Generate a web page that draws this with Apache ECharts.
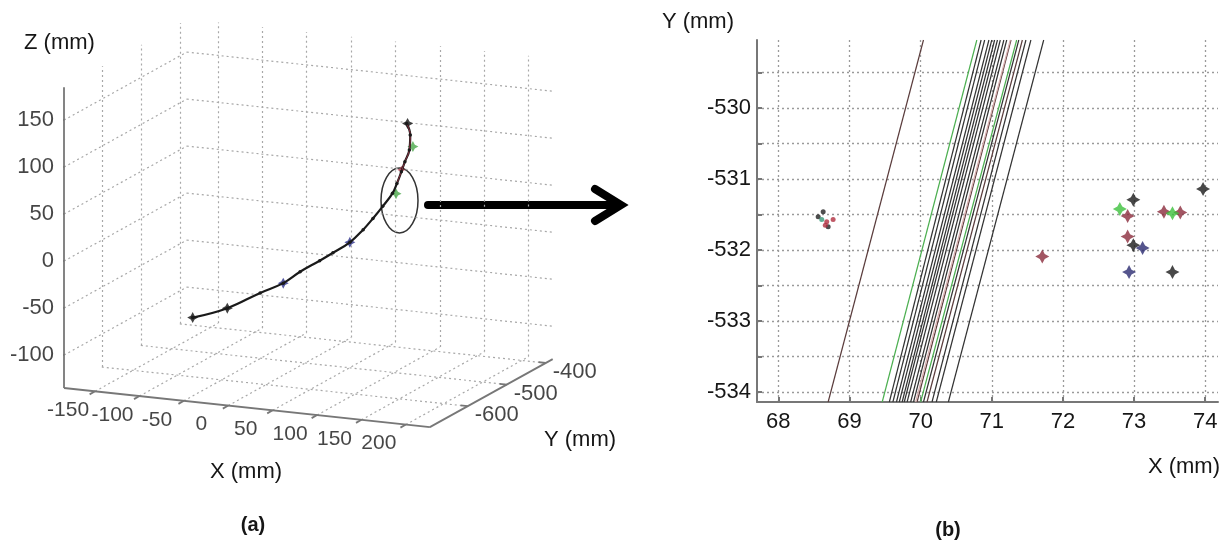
<!DOCTYPE html>
<html>
<head>
<meta charset="utf-8">
<script src="https://cdn.jsdelivr.net/npm/echarts@6/dist/echarts.min.js"></script>
<style>
  html, body { margin: 0; padding: 0; background: #fff; }
  #chart { width: 1228px; height: 542px; }
</style>
</head>
<body>
<div id="chart"></div>
<script>
// ---------- panel (a): 3D trajectory ----------
const trajX = [-113, -74, -37, -11, 8, 30, 45, 64, 79, 90, 101, 112, 117, 122, 126, 131, 132, 128]
const trajY = [-531, -531, -531, -531, -531, -531, -531, -531, -531, -531, -531, -531, -531, -531, -531, -531, -531, -531]
const trajZ = [-91, -77, -57, -44, -30, -16, -6, 7, 22, 35, 49, 64, 75, 88, 99, 112, 128, 140]

const markBlackA = [[-113, -531, -91], [-74, -531, -77], [129, -531, 140]]
const markBlueA = [[-11, -531, -44], [64, -531, 7]]
const markGreenA = [[116, -531, 64], [135, -531, 116]]
const markRedA = [[122, -531, 90]]

const ticksX3 = [-150, -100, -50, 0, 50, 100, 150, 200]
const ticksY3 = [-600, -500, -400]
const ticksZ3 = [-100, -50, 0, 50, 100, 150]
const limX3 = [-185, 227]
const limY3 = [-697, -382]
const limZ3 = [-135, 185]

// ---------- panel (b): X-Y close-up ----------
const blackLineBottom = [69.56, 69.61, 69.66, 69.70, 69.74, 69.77, 69.81, 69.86, 69.90, 70.04, 70.16, 70.22, 70.39]
const blackLineTop = [70.85, 70.90, 70.96, 71.00, 71.04, 71.08, 71.12, 71.17, 71.21, 71.38, 71.48, 71.55, 71.73]
const greenLineBottom = [69.46, 70.00]
const greenLineTop = [70.79, 71.35]
const brownLineBottom = [68.70, 70.09, 69.95]
const brownLineTop = [70.04, 71.43, 71.27]
const pinkLineBottom = [69.93]
const pinkLineTop = [71.26]

const dotsBlack = [[68.63, -531.46], [68.56, -531.53], [68.70, -531.67]]
const dotsRed = [[68.68, -531.60], [68.66, -531.65], [68.77, -531.57]]
const dotsGreen = [[68.61, -531.57]]

const starsBlack = [[73.97, -531.14], [72.99, -531.29], [72.99, -531.93], [73.54, -532.31]]
const starsRed = [[72.91, -531.52], [73.42, -531.46], [73.65, -531.47], [72.91, -531.81], [71.71, -532.09]]
const starsGreen = [[72.80, -531.42], [73.54, -531.48]]
const starsBlue = [[73.12, -531.97], [72.93, -532.31]]

const ticksXb = [68, 69, 70, 71, 72, 73, 74]
const ticksYb = [-534, -533, -532, -531, -530]
const minorYb = [-534, -533.5, -533, -532.5, -532, -531.5, -531, -530.5, -530, -529.5]
const limXb = [67.7, 74.18]
const limYb = [-534.14, -529.04]

const FONT = '"Liberation Sans", Arial, sans-serif'
const TXT = '#161616'
const STAR = 'path://M0,-10 L3.5,-3.5 L10,0 L3.5,3.5 L0,10 L-3.5,3.5 L-10,0 L-3.5,-3.5 Z'

// oblique projection of the 3D box onto a hidden 2D cartesian
function proj(x, y, z) {
  const dx = x - limX3[0]
  const dy = y - limY3[0]
  const dz = z - limZ3[0]
  return [dx * 0.888 + dy * 0.39, dz * 0.94 - dx * 0.095 + dy * 0.216]
}

function seg(a, b) {
  return { coords: [proj(a[0], a[1], a[2]), proj(b[0], b[1], b[2])] }
}

const [x0, x1] = limX3
const [y0, y1] = limY3
const [z0, z1] = limZ3

const gridSegs = []
ticksX3.forEach((x) => {
  gridSegs.push(seg([x, y1, z0], [x, y1, z1]))
  gridSegs.push(seg([x, y0, z0], [x, y1, z0]))
})
ticksY3.forEach((y) => {
  gridSegs.push(seg([x0, y, z0], [x0, y, z1]))
  gridSegs.push(seg([x0, y, z0], [x1, y, z0]))
})
ticksZ3.forEach((z) => {
  gridSegs.push(seg([x0, y1, z], [x1, y1, z]))
  gridSegs.push(seg([x0, y0, z], [x0, y1, z]))
})

const axisSegs = [
  seg([x0, y0, z0], [x0, y0, z1]),
  seg([x0, y0, z0], [x1, y0, z0]),
  seg([x1, y0, z0], [x1, y1, z0]),
]
ticksZ3.forEach((z) => axisSegs.push(seg([x0, y0, z], [x0 - 7, y0, z])))
ticksX3.forEach((x) => axisSegs.push(seg([x, y0, z0], [x, y0 - 14, z0])))
ticksY3.forEach((y) => axisSegs.push(seg([x1, y, z0], [x1 - 8, y, z0])))

const trajPts = trajX.map((x, i) => proj(x, trajY[i], trajZ[i]))
const projMarks = (arr) => arr.map((p) => proj(p[0], p[1], p[2]))

function lineData(bottom, top) {
  return bottom.map((b, i) => ({ coords: [[b, limYb[0]], [top[i], limYb[1]]] }))
}

function labelSeries(data, label) {
  return {
    type: 'scatter',
    xAxisIndex: 0,
    yAxisIndex: 0,
    symbolSize: 0,
    silent: true,
    data,
    label: Object.assign({ show: true, color: TXT, fontSize: 22, fontFamily: FONT }, label),
  }
}

function text(x, y, str, font, align) {
  return {
    type: 'text',
    x,
    y,
    style: {
      text: str,
      font: font + ' ' + FONT,
      fill: TXT,
      align,
      textAlign: align,
      verticalAlign: 'middle',
      textVerticalAlign: 'middle',
    },
  }
}

const axisStyle = { color: '#777', width: 2 }
const chart = echarts.init(document.getElementById('chart'))

chart.setOption({
  animation: false,
  backgroundColor: '#fff',
  grid: [
    { left: 64, top: 8, width: 500, height: 425 },
    { left: 757, top: 40, right: 10, bottom: 140 },
  ],
  xAxis: [
    { gridIndex: 0, type: 'value', min: 0, max: 500, show: false },
    {
      gridIndex: 1,
      type: 'value',
      min: limXb[0],
      max: limXb[1],
      axisLine: { onZero: false, lineStyle: axisStyle },
      axisTick: { inside: true, length: 5, customValues: ticksXb, lineStyle: axisStyle },
      axisLabel: { customValues: ticksXb, margin: 9, color: TXT, fontSize: 22, fontFamily: FONT },
      splitLine: { show: true, lineStyle: { color: '#9a9a9a', type: [2, 3], width: 1.3 } },
    },
  ],
  yAxis: [
    { gridIndex: 0, type: 'value', min: -45, max: 380, show: false },
    {
      gridIndex: 1,
      type: 'value',
      min: limYb[0],
      max: limYb[1],
      axisLine: { show: true, onZero: false, lineStyle: axisStyle },
      axisTick: { show: true, inside: true, length: 5, customValues: minorYb, lineStyle: axisStyle },
      axisLabel: { customValues: ticksYb, margin: 6, color: TXT, fontSize: 22, fontFamily: FONT },
      splitLine: { show: true, lineStyle: { color: '#9a9a9a', type: [2, 3], width: 1.3 } },
    },
  ],
  series: [
    // ---- (a)
    {
      type: 'lines',
      coordinateSystem: 'cartesian2d',
      xAxisIndex: 0,
      yAxisIndex: 0,
      silent: true,
      lineStyle: { color: '#a8a8a8', width: 1.2, type: [2, 3], opacity: 1 },
      data: gridSegs,
    },
    {
      type: 'lines',
      coordinateSystem: 'cartesian2d',
      xAxisIndex: 0,
      yAxisIndex: 0,
      silent: true,
      lineStyle: { color: '#777', width: 1.8, opacity: 1 },
      data: axisSegs,
    },
    {
      type: 'line',
      xAxisIndex: 0,
      yAxisIndex: 0,
      smooth: 0.4,
      symbol: 'circle',
      symbolSize: 3.5,
      itemStyle: { color: '#1a1a1a' },
      lineStyle: { color: '#1a1a1a', width: 2.2 },
      data: trajPts,
    },
    {
      type: 'line',
      xAxisIndex: 0,
      yAxisIndex: 0,
      smooth: 0.4,
      symbol: 'none',
      lineStyle: { color: '#8a3040', width: 1 },
      data: trajPts.slice(12),
    },
    { type: 'scatter', xAxisIndex: 0, yAxisIndex: 0, symbol: STAR, symbolSize: 11, itemStyle: { color: '#111' }, data: projMarks(markBlackA) },
    { type: 'scatter', xAxisIndex: 0, yAxisIndex: 0, symbol: STAR, symbolSize: 11, itemStyle: { color: '#2a2f8a' }, data: projMarks(markBlueA) },
    { type: 'scatter', xAxisIndex: 0, yAxisIndex: 0, symbol: STAR, symbolSize: 11, itemStyle: { color: '#4aa84a' }, data: projMarks(markGreenA) },
    { type: 'scatter', xAxisIndex: 0, yAxisIndex: 0, symbol: STAR, symbolSize: 8, itemStyle: { color: '#a03040' }, data: projMarks(markRedA) },
    labelSeries(
      ticksZ3.map((z) => ({ value: proj(x0, y0, z), name: String(z) })),
      { position: 'left', distance: 10, formatter: '{b}' },
    ),
    labelSeries(
      ticksX3.map((x) => ({ value: proj(x, y0, z0), name: String(x) })),
      { position: 'inside', offset: [-27, 19], fontSize: 21, formatter: '{b}' },
    ),
    labelSeries(
      ticksY3.map((y) => ({ value: proj(x1, y, z0), name: String(y) })),
      { position: 'inside', offset: [29, 9], formatter: '{b}' },
    ),
    // ---- (b)
    {
      type: 'lines',
      coordinateSystem: 'cartesian2d',
      xAxisIndex: 1,
      yAxisIndex: 1,
      silent: true,
      lineStyle: { color: '#333', width: 1.2, opacity: 1 },
      data: lineData(blackLineBottom, blackLineTop),
    },
    {
      type: 'lines',
      coordinateSystem: 'cartesian2d',
      xAxisIndex: 1,
      yAxisIndex: 1,
      silent: true,
      lineStyle: { color: '#5a3c3c', width: 1.2, opacity: 1 },
      data: lineData(brownLineBottom, brownLineTop),
    },
    {
      type: 'lines',
      coordinateSystem: 'cartesian2d',
      xAxisIndex: 1,
      yAxisIndex: 1,
      silent: true,
      lineStyle: { color: '#d8b0b0', width: 1.2, opacity: 1 },
      data: lineData(pinkLineBottom, pinkLineTop),
    },
    {
      type: 'lines',
      coordinateSystem: 'cartesian2d',
      xAxisIndex: 1,
      yAxisIndex: 1,
      silent: true,
      lineStyle: { color: '#4caf50', width: 1.2, opacity: 1 },
      data: lineData(greenLineBottom, greenLineTop),
    },
    { type: 'scatter', xAxisIndex: 1, yAxisIndex: 1, symbol: 'circle', symbolSize: 5, itemStyle: { color: '#222' }, data: dotsBlack },
    { type: 'scatter', xAxisIndex: 1, yAxisIndex: 1, symbol: 'circle', symbolSize: 5, itemStyle: { color: '#b03040' }, data: dotsRed },
    { type: 'scatter', xAxisIndex: 1, yAxisIndex: 1, symbol: 'circle', symbolSize: 5, itemStyle: { color: '#3a9a7a' }, data: dotsGreen },
    { type: 'scatter', xAxisIndex: 1, yAxisIndex: 1, symbol: STAR, symbolSize: 14, itemStyle: { color: '#1a1a1a' }, data: starsBlack },
    { type: 'scatter', xAxisIndex: 1, yAxisIndex: 1, symbol: STAR, symbolSize: 14, itemStyle: { color: '#8b2c3c' }, data: starsRed },
    { type: 'scatter', xAxisIndex: 1, yAxisIndex: 1, symbol: STAR, symbolSize: 14, itemStyle: { color: '#3cc03c' }, data: starsGreen },
    { type: 'scatter', xAxisIndex: 1, yAxisIndex: 1, symbol: STAR, symbolSize: 14, itemStyle: { color: '#2a2a70' }, data: starsBlue },
  ],
  graphic: [
    text(24, 43, 'Z (mm)', '22px', 'left'),
    text(246, 472, 'X (mm)', '22px', 'center'),
    text(580, 440, 'Y (mm)', '22px', 'center'),
    text(253, 525, '(a)', 'bold 20px', 'center'),
    text(734, 22, 'Y (mm)', '22px', 'right'),
    text(1220, 467, 'X (mm)', '22px', 'right'),
    text(948, 530, '(b)', 'bold 20px', 'center'),
    { type: 'ellipse', shape: { cx: 399.5, cy: 200.5, rx: 18.5, ry: 32.5 }, style: { fill: 'none', stroke: '#333', lineWidth: 1.5 } },
    { type: 'line', shape: { x1: 428, y1: 205, x2: 618, y2: 205 }, style: { stroke: '#000', lineWidth: 8, lineCap: 'round' } },
    { type: 'polyline', shape: { points: [[595, 189], [621, 205], [595, 221]] }, style: { stroke: '#000', fill: 'none', lineWidth: 8, lineJoin: 'miter', lineCap: 'round' } },
  ],
})
</script>
</body>
</html>
